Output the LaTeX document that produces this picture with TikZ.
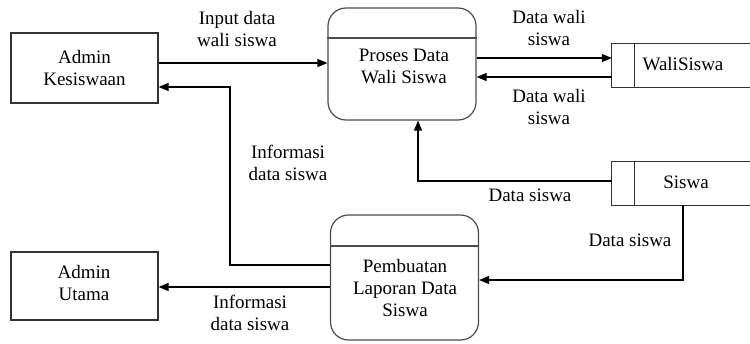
\documentclass[tikz,border=0pt]{standalone}
\usepackage{fontspec}
\setmainfont{Liberation Serif}
\usetikzlibrary{arrows.meta,calc}
\begin{document}
\begin{tikzpicture}[x=1pt,y=-1pt,
  txt/.style={font=\fontsize{19}{22}\selectfont, align=center, inner sep=0pt},
  entbox/.style={draw=black!80, line width=1.2pt, minimum width=147pt, inner sep=0pt},
  procbox/.style={draw=black!70, line width=1.2pt, rounded corners=18pt, minimum width=148pt, inner sep=0pt},
  storebox/.style={draw=none, minimum width=138pt, minimum height=43pt, inner sep=0pt},
  storeline/.style={draw=black!80, line width=1.2pt},
  arr/.style={draw=black, line width=1.2pt, -{Triangle[length=10pt,width=8pt]}},
  ln/.style={draw=black, line width=1.2pt}]
\useasboundingbox (0,0) rectangle (750,343);

% external entities
\node[entbox, minimum height=70pt] (ak) at (84.5,68) {};
\node[txt] (akt) at (ak.center) {Admin\\Kesiswaan};
\node[entbox, minimum height=68pt] (au) at (84.5,286) {};
\node[txt] (aut) at (84,283) {Admin\\Utama};

% processes
\node[procbox, minimum height=112pt] (p1) at (402,64) {};
\draw[draw=black!70, line width=1.2pt] (p1.west |- 0,38) -- (p1.east |- 0,38);
\node[txt] (p1t) at (404,66) {Proses Data\\Wali Siswa};
\node[procbox, minimum height=125pt] (p2) at (404.5,277.5) {};
\draw[draw=black!70, line width=1.2pt] (p2.west |- 0,246) -- (p2.east |- 0,246);
\node[txt] (p2t) at (405,288) {Pembuatan\\Laporan Data\\Siswa};

% data stores
\node[storebox] (ws) at (681,65.5) {};
\draw[storeline] (ws.north east) -- (ws.north west) -- (ws.south west) -- (ws.south east);
\draw[storeline] ([xshift=23pt]ws.north west) -- ([xshift=23pt]ws.south west);
\node[txt] (wst) at (683,64) {WaliSiswa};
\node[storebox] (ss) at (681,183.5) {};
\draw[storeline] (ss.north east) -- (ss.north west) -- (ss.south west) -- (ss.south east);
\draw[storeline] ([xshift=23pt]ss.north west) -- ([xshift=23pt]ss.south west);
\node[txt] (sst) at (686,182) {Siswa};

% flows
\draw[arr] (ak.east |- 0,63) -- (p1.west |- 0,63);
\coordinate (c1) at (230,265);
\draw[arr] (p2.west |- c1) -- (c1) -- (c1 |- 0,87) -- (ak.east |- 0,87);
\draw[arr] (p1.east |- 0,58) -- (ws.west |- 0,58);
\draw[arr] (ws.west |- 0,77) -- (p1.east |- 0,77);
\coordinate (c2) at (418,181);
\draw[arr] (ss.west |- c2) -- (c2) -- (c2 |- p1.south);
\coordinate (c3) at (683,280);
\draw[arr] (ss.south -| c3) -- (c3) -- (p2.east |- c3);
\draw[arr] (p2.west |- 0,287) -- (au.east |- 0,287);

% labels
\node[txt] (l1) at (237,29) {Input data\\wali siswa};
\node[txt] (l2) at (549,28) {Data wali\\siswa};
\node[txt] (l3) at (549,107) {Data wali\\siswa};
\node[txt] (l4) at (288,163) {Informasi\\data siswa};
\node[txt] (l5) at (530,195) {Data siswa};
\node[txt] (l6) at (630,240) {Data siswa};
\node[txt] (l7) at (250,313) {Informasi\\data siswa};
\end{tikzpicture}
\end{document}
